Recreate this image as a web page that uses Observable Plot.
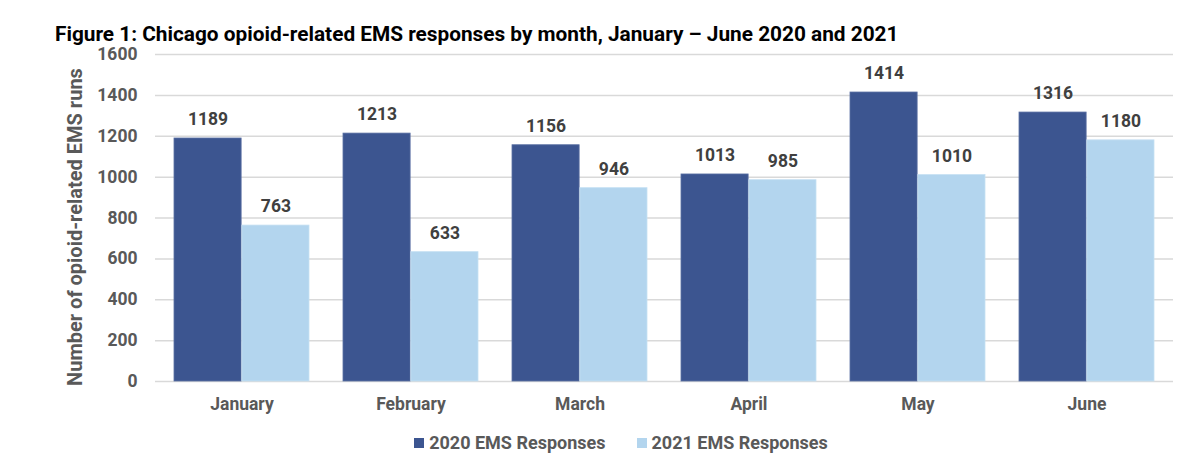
<!DOCTYPE html>
<html>
<head>
<meta charset="utf-8">
<script src="https://cdn.jsdelivr.net/npm/d3@7"></script>
<script src="https://cdn.jsdelivr.net/npm/@observablehq/plot@0.6"></script>
<style>
  body { margin: 0; background: #fff; font-family: Roboto, "Noto Sans", sans-serif; }
  #title { margin: 24px 0 0 55px; height: 20px; line-height: 20px; font-size: 20.8px; font-weight: 700; color: #000; white-space: nowrap; }
  #legend { display: flex; justify-content: center; gap: 31px; margin-top: 11px; font-size: 18px; font-weight: 700; color: #595959; padding-left: 42px; }
  #legend span.sw { display: inline-block; width: 10px; height: 10px; margin-right: 5px; vertical-align: 1px; }
</style>
</head>
<body>
<div id="title">Figure 1: Chicago opioid-related EMS responses by month, January – June 2020 and 2021</div>
<div id="chart"></div>
<div id="legend"></div>
<script>
const months = ["January", "February", "March", "April", "May", "June"];
const series = ["2020 EMS Responses", "2021 EMS Responses"];
const values2020 = [1189, 1213, 1156, 1013, 1414, 1316];
const values2021 = [763, 633, 946, 985, 1010, 1180];
const colors = ["#3c5590", "#b3d5ee"];
const yTicks = [0, 200, 400, 600, 800, 1000, 1200, 1400, 1600];
const yLabel = "Number of opioid-related EMS runs";

const data2020 = months.map((m, i) => ({month: m, value: values2020[i], series: series[0]}));
const data2021 = months.map((m, i) => ({month: m, value: values2021[i], series: series[1]}));

const width = 1200, marginLeft = 155, marginRight = 27;
const step = (width - marginLeft - marginRight) / months.length;
const half = step * 0.8 / 2;

const chart = Plot.plot({
  width,
  height: 377,
  marginTop: 10,
  marginBottom: 40,
  marginLeft,
  marginRight,
  style: { fontFamily: "Roboto, 'Noto Sans', sans-serif", background: "#fff", overflow: "visible" },
  x: { domain: months, paddingInner: 0.2, paddingOuter: 0.1 },
  y: { domain: [0, 1600] },
  marks: [
    Plot.ruleY(yTicks, { stroke: "#d9d9d9", strokeWidth: 1.5 }),
    Plot.barY(data2020, { x: "month", y: "value", fill: colors[0], insetRight: half, stroke: "#5a70a3", strokeWidth: 0.8 }),
    Plot.barY(data2021, { x: "month", y: "value", fill: colors[1], insetLeft: half, stroke: "#c6e0f3", strokeWidth: 0.8 }),
    Plot.text(data2020, { x: "month", y: "value", text: d => String(d.value), dx: -half / 2, dy: -19, fill: "#404040", fontSize: 17.5, fontWeight: 700 }),
    Plot.text(data2021, { x: "month", y: "value", text: d => String(d.value), dx: half / 2, dy: -19, fill: "#404040", fontSize: 17.5, fontWeight: 700 }),
    Plot.axisY({ ticks: yTicks, tickFormat: "d", tickSize: 0, tickPadding: 18, fontSize: 17.5, fontWeight: 700, fill: "#595959",
      label: yLabel, labelAnchor: "center", labelArrow: "none", labelOffset: 88 }),
    Plot.axisX({ tickSize: 0, tickPadding: 16, fontSize: 17.5, fontWeight: 700, fill: "#595959", label: null })
  ]
});
chart.querySelectorAll("text").forEach(t => {
  if (t.textContent.trim() === yLabel) {
    t.setAttribute("font-size", 20);
    t.setAttribute("font-weight", 700);
    t.setAttribute("fill", "#595959");
    t.setAttribute("dx", -9);
    t.style.fontSize = "20px";
    t.style.fontWeight = "700";
  }
});
document.getElementById("chart").appendChild(chart);

const legend = document.getElementById("legend");
series.forEach((s, i) => {
  const item = document.createElement("div");
  item.innerHTML = `<span class="sw" style="background:${colors[i]}"></span>${s}`;
  legend.appendChild(item);
});
</script>
</body>
</html>
